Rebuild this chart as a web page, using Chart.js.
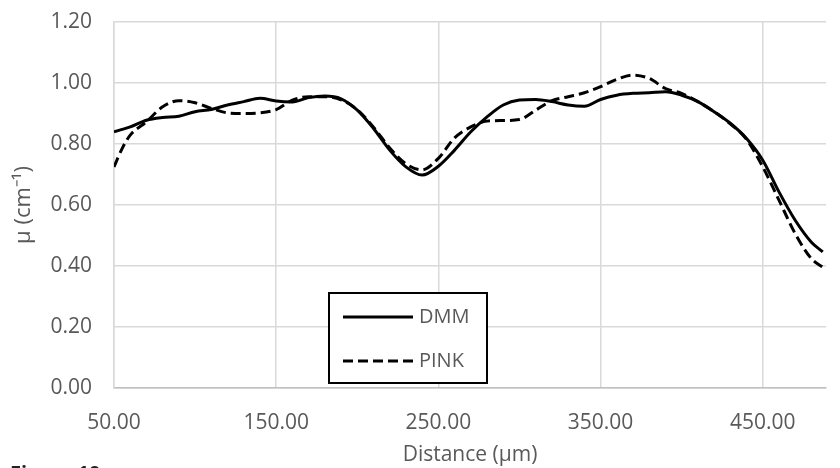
<!DOCTYPE html>
<html><head><meta charset="utf-8">
<script src="https://cdn.jsdelivr.net/npm/chart.js@4/dist/chart.umd.min.js"></script>
<style>html,body{margin:0;padding:0;background:#fff;}#wrap{width:840px;height:468px;}</style>
</head><body><div id="wrap"><canvas id="c" width="840" height="468"></canvas></div>
<script>
const distance = [50,55,60,70,80,90,100,110,120,130,140,150,160,170,180,190,200,210,220,230,240,250,260,270,280,290,300,310,320,330,340,350,360,370,380,390,400,410,420,430,440,450,460,470,480,487];
const dmm = [0.840,0.848,0.856,0.878,0.887,0.891,0.906,0.913,0.928,0.939,0.950,0.941,0.938,0.952,0.957,0.948,0.911,0.851,0.780,0.725,0.698,0.727,0.780,0.840,0.889,0.928,0.944,0.946,0.939,0.928,0.924,0.946,0.960,0.966,0.968,0.971,0.960,0.939,0.906,0.868,0.818,0.747,0.643,0.550,0.478,0.446];
const pink = [0.725,0.785,0.829,0.873,0.922,0.942,0.935,0.917,0.902,0.900,0.902,0.913,0.944,0.955,0.955,0.945,0.912,0.855,0.787,0.735,0.715,0.753,0.820,0.856,0.875,0.877,0.880,0.911,0.942,0.955,0.968,0.988,1.012,1.026,1.015,0.982,0.966,0.939,0.906,0.866,0.815,0.725,0.616,0.506,0.424,0.396];
const seriesNames = ["DMM", "PINK"];
const xTicks = [50, 150, 250, 350, 450];
const yTicks = [0, 0.2, 0.4, 0.6, 0.8, 1.0, 1.2];
const xTitle = "Distance (\u00b5m)";
const yTitle = "\u00b5 (cm\u207b\u00b9)";
const figureCaption = "Figure 10";

const FONT = "'Open Sans', sans-serif";
const GREY = "#595959";

const legendPlugin = {
  id: 'boxLegend',
  afterDatasetsDraw(chart) {
    const ctx = chart.ctx;
    ctx.save();
    const bx = 329, by = 293, bw = 158, bh = 90;
    ctx.fillStyle = '#fff';
    ctx.fillRect(bx, by, bw, bh);
    ctx.lineWidth = 2;
    ctx.strokeStyle = '#000';
    ctx.strokeRect(bx, by, bw, bh);
    chart.data.datasets.forEach((ds, i) => {
      const y = by + 24 + i * 44;
      ctx.beginPath();
      ctx.setLineDash(ds.borderDash || []);
      ctx.lineWidth = 3;
      ctx.strokeStyle = ds.borderColor;
      ctx.moveTo(343, y);
      ctx.lineTo(413, y);
      ctx.stroke();
      ctx.setLineDash([]);
      ctx.fillStyle = GREY;
      ctx.font = "20px " + FONT;
      ctx.textBaseline = 'middle';
      ctx.textAlign = 'left';
      ctx.fillText(ds.label, 419, y);
    });
    ctx.fillStyle = '#222';
    ctx.font = "bold 20px " + FONT;
    ctx.textBaseline = 'top';
    ctx.fillText(figureCaption, 10, 464);
    ctx.restore();
  }
};

new Chart(document.getElementById('c'), {
  type: 'line',
  data: {
    datasets: [
      { label: seriesNames[0], data: distance.map((x, i) => ({x, y: dmm[i]})),
        borderColor: '#000', borderWidth: 3, pointRadius: 0, fill: false,
        cubicInterpolationMode: 'monotone' },
      { label: seriesNames[1], data: distance.map((x, i) => ({x, y: pink[i]})),
        borderColor: '#000', borderWidth: 3, borderDash: [10, 5], pointRadius: 0, fill: false,
        cubicInterpolationMode: 'monotone' }
    ]
  },
  options: {
    responsive: false,
    animation: false,
    layout: { padding: { top: 22, right: 14, left: 0, bottom: 0 } },
    plugins: { legend: { display: false }, tooltip: { enabled: false } },
    scales: {
      x: {
        type: 'linear', min: 50, max: 489,
        afterBuildTicks: (axis) => { axis.ticks = xTicks.map(v => ({ value: v })); },
        afterFit: (s) => { s.height = 80; s.paddingLeft = 0; s.paddingRight = 0; s.paddingTop = 0; s.paddingBottom = 0; },
        ticks: { color: GREY, font: { family: FONT, size: 21 }, padding: 22, maxRotation: 0,
                 callback: (v) => Number(v).toFixed(2) },
        grid: { color: '#d9d9d9', lineWidth: 1.5, drawTicks: false },
        border: { color: '#bfbfbf', width: 1.5 },
        title: { display: true, text: xTitle, color: GREY, font: { family: FONT, size: 21 },
                 padding: { top: 0, bottom: 0 } }
      },
      y: {
        min: 0, max: 1.2,
        afterBuildTicks: (axis) => { axis.ticks = yTicks.map(v => ({ value: v })); },
        afterFit: (s) => { s.width = 114; s.paddingLeft = 0; s.paddingRight = 0; s.paddingTop = 0; s.paddingBottom = 0; },
        ticks: { color: GREY, font: { family: FONT, size: 21 }, padding: 22,
                 callback: (v) => Number(v).toFixed(2) },
        grid: { color: '#d9d9d9', lineWidth: 1.5, drawTicks: false },
        border: { color: '#d9d9d9', width: 1.5 },
        title: { display: true, text: yTitle, color: GREY, font: { family: FONT, size: 22 },
                 padding: { top: 11, bottom: 0 } }
      }
    }
  },
  plugins: [legendPlugin]
});
</script></body></html>
